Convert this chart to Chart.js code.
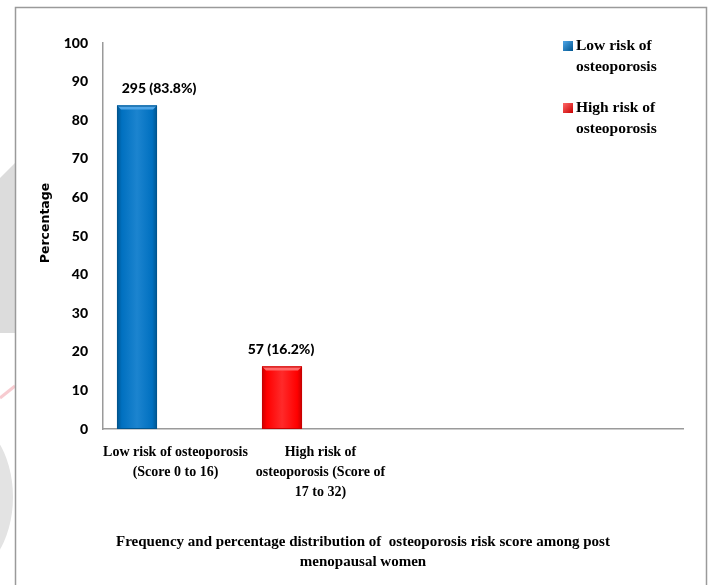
<!DOCTYPE html>
<html>
<head>
<meta charset="utf-8">
<title>Osteoporosis risk score</title>
<script src="https://cdn.jsdelivr.net/npm/chart.js@4/dist/chart.umd.min.js"></script>
<style>
  html, body { margin: 0; padding: 0; background: #ffffff; }
  canvas { display: block; }
</style>
</head>
<body>
<canvas id="riskChart" width="712" height="585"></canvas>
<script>
// ---- data ----
const categories = [
  ['Low risk of osteoporosis', '(Score 0 to 16)'],
  ['High risk of', 'osteoporosis (Score of', '17 to 32)'],
  '',
  ''
];
const seriesNames = ['Low risk of osteoporosis', 'High risk of osteoporosis'];
const legendLines = [['Low risk of', 'osteoporosis'], ['High risk of', 'osteoporosis']];
const lowRiskValues  = [83.8, null, null, null];
const highRiskValues = [null, 16.2, null, null];
const spareSlotValues = [null, null, null, null];
const lowRiskCounts  = [295, null, null, null];
const highRiskCounts = [null, 57, null, null];
const yTickValues = [0, 10, 20, 30, 40, 50, 60, 70, 80, 90, 100];
const axisTitle = 'Percentage';
const chartCaption = [
  'Frequency and percentage distribution of  osteoporosis risk score among post',
  'menopausal women'
];

// ---- styles ----
const SERIF = '"Liberation Serif", "Times New Roman", serif';
const SANS = 'Lato, "Open Sans", sans-serif';
const palette = [
  { fill: '#0070C0', light: '#4FA6E8', dark: '#00558F', edge: '#1C84CF' },
  { fill: '#FF0000', light: '#FF6A6A', dark: '#C80000', edge: '#FF2A2A' }
];

// page frame and faint background artwork at the left margin
const framePlugin = {
  id: 'frame',
  beforeDraw(chart) {
    const ctx = chart.ctx;
    ctx.save();
    ctx.fillStyle = '#ffffff';
    ctx.fillRect(0, 0, chart.width, chart.height);

    ctx.beginPath();
    ctx.rect(0, 0, 15, chart.height);
    ctx.clip();
    ctx.fillStyle = '#dcdcdc';
    ctx.beginPath();
    ctx.moveTo(0, 178); ctx.lineTo(15, 163); ctx.lineTo(15, 333); ctx.lineTo(0, 333);
    ctx.closePath(); ctx.fill();
    ctx.strokeStyle = 'rgba(240,160,170,0.55)';
    ctx.lineWidth = 3;
    ctx.beginPath(); ctx.moveTo(0, 398); ctx.lineTo(15, 386); ctx.stroke();
    ctx.fillStyle = '#e3e3e3';
    ctx.beginPath();
    ctx.ellipse(-40, 497, 53, 80, 0, 0, Math.PI * 2);
    ctx.fill();
    ctx.restore();

    ctx.save();
    ctx.strokeStyle = '#9a9a9a';
    ctx.lineWidth = 1.5;
    ctx.strokeRect(15.5, 7.5, 691, 700);
    ctx.restore();
  }
};

// bevelled look on the bars, drawn from each bar element's geometry
const bevelPlugin = {
  id: 'bevel',
  afterDatasetsDraw(chart) {
    const ctx = chart.ctx;
    const bw = 4;
    [0, 1].forEach(di => {
      const meta = chart.getDatasetMeta(di);
      const col = palette[di];
      meta.data.forEach((el, i) => {
        if (chart.data.datasets[di].data[i] == null) return;
        const p = el.getProps(['x', 'y', 'base', 'width'], true);
        const x0 = p.x - p.width / 2, x1 = p.x + p.width / 2;
        const top = p.y, base = p.base;
        ctx.save();
        // body shading
        const g = ctx.createLinearGradient(x0, 0, x1, 0);
        g.addColorStop(0, col.dark);
        g.addColorStop(0.12, col.fill);
        g.addColorStop(0.5, col.edge);
        g.addColorStop(0.88, col.fill);
        g.addColorStop(1, col.dark);
        ctx.fillStyle = g;
        ctx.fillRect(x0, top, p.width, base - top);
        // top bevel
        ctx.fillStyle = col.light;
        ctx.beginPath();
        ctx.moveTo(x0, top); ctx.lineTo(x1, top);
        ctx.lineTo(x1 - bw, top + bw); ctx.lineTo(x0 + bw, top + bw);
        ctx.closePath(); ctx.fill();
        ctx.strokeStyle = col.dark;
        ctx.lineWidth = 1;
        ctx.strokeRect(x0 + 0.5, top + 0.5, p.width - 1, base - top - 1);
        ctx.restore();
      });
    });
  }
};

// value labels, legend, axis title and caption
const annotatePlugin = {
  id: 'annotate',
  afterDraw(chart) {
    const ctx = chart.ctx;
    const counts = [lowRiskCounts, highRiskCounts];
    const shifts = [22, -1];
    ctx.save();
    ctx.fillStyle = '#000000';
    ctx.font = '900 14px ' + SANS;
    ctx.textAlign = 'center';
    ctx.textBaseline = 'middle';
    [0, 1].forEach(di => {
      const meta = chart.getDatasetMeta(di);
      chart.data.datasets[di].data.forEach((v, i) => {
        if (v == null) return;
        const el = meta.data[i];
        ctx.fillText(counts[di][i] + ' (' + v + '%)', el.x + shifts[di], el.y - 17);
      });
    });

    // legend
    const legendRows = [46, 108];
    seriesNames.forEach((name, di) => {
      const y = legendRows[di];
      const col = palette[di];
      const sq = ctx.createLinearGradient(563, y - 5, 573, y + 5);
      sq.addColorStop(0, col.light);
      sq.addColorStop(1, col.dark);
      ctx.fillStyle = sq;
      ctx.fillRect(563, y - 5, 10, 10);
      ctx.fillStyle = '#000000';
      ctx.font = 'bold 15.5px ' + SERIF;
      ctx.textAlign = 'left';
      legendLines[di].forEach((line, li) => ctx.fillText(line, 576, y + li * 21));
    });

    // y-axis title
    ctx.save();
    ctx.translate(46, 223);
    ctx.rotate(-Math.PI / 2);
    ctx.font = 'bold 12.5px "DejaVu Sans", sans-serif';
    ctx.textAlign = 'center';
    ctx.fillText(axisTitle, 0, 0);
    ctx.restore();

    // caption
    ctx.font = 'bold 15px ' + SERIF;
    ctx.textAlign = 'center';
    chartCaption.forEach((line, li) => ctx.fillText(line, 363, 542 + li * 20));
    ctx.restore();
  }
};

new Chart(document.getElementById('riskChart'), {
  type: 'bar',
  data: {
    labels: categories,
    datasets: [
      { label: seriesNames[0], data: lowRiskValues, backgroundColor: palette[0].fill, stack: 'shown' },
      { label: seriesNames[1], data: highRiskValues, backgroundColor: palette[1].fill, stack: 'shown' },
      { label: 'spare', data: spareSlotValues, backgroundColor: 'rgba(0,0,0,0)', stack: 'spare' }
    ]
  },
  options: {
    responsive: false,
    animation: false,
    devicePixelRatio: 1,
    categoryPercentage: 1.062,
    barPercentage: 0.52,
    layout: { padding: { left: 53, right: 29, top: 43, bottom: 36 } },
    plugins: {
      legend: { display: false },
      tooltip: { enabled: false },
      title: { display: false }
    },
    scales: {
      x: {
        type: 'category',
        offset: true,
        grid: { display: false, drawTicks: false },
        border: { display: true, color: '#9a9a9a', width: 1.5 },
        ticks: {
          autoSkip: false,
          maxRotation: 0,
          minRotation: 0,
          padding: 14,
          color: '#000000',
          font: { family: SERIF, size: 14, weight: 'bold', lineHeight: 1.4 }
        },
        afterFit(scale) { scale.height = 120; }
      },
      y: {
        min: 0,
        max: 100,
        stacked: false,
        grid: { display: false, drawTicks: false },
        border: { display: true, color: '#9a9a9a', width: 1.5 },
        ticks: {
          padding: 15,
          color: '#000000',
          font: { family: SANS, size: 14, weight: 900 }
        },
        afterBuildTicks(scale) { scale.ticks = yTickValues.map(v => ({ value: v })); },
        afterFit(scale) { scale.width = 50; }
      }
    }
  },
  plugins: [framePlugin, bevelPlugin, annotatePlugin]
});
</script>
</body>
</html>
